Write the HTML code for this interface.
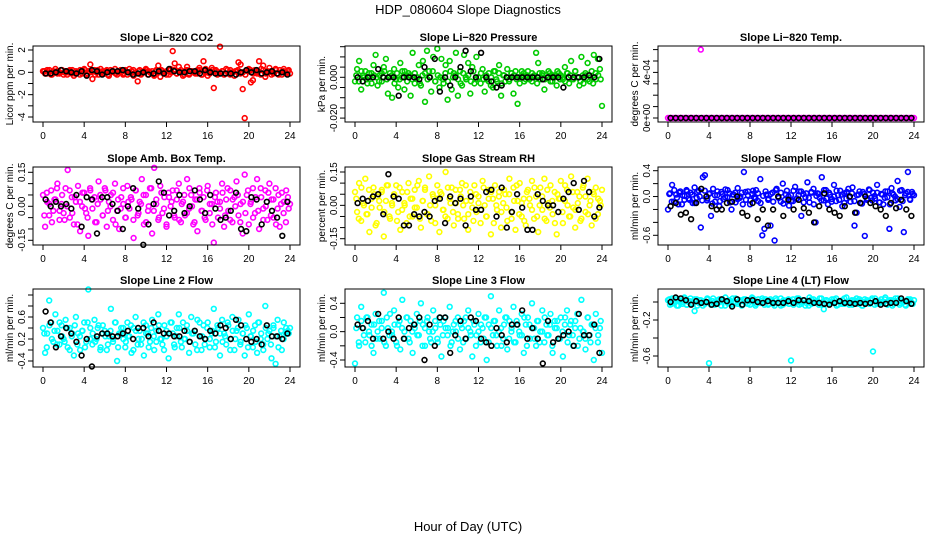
<!DOCTYPE html>
<html><head><meta charset="utf-8"><style>
html,body{margin:0;padding:0;background:#fff}
svg{display:block;font-family:"Liberation Sans",Arial,sans-serif}
</style></head><body>
<svg id="chart" width="936" height="540" viewBox="0 0 936 540" xmlns="http://www.w3.org/2000/svg">
<text x="468" y="14" text-anchor="middle" font-size="13">HDP_080604  Slope Diagnostics</text>
<text x="468" y="531" text-anchor="middle" font-size="13">Hour of Day (UTC)</text>
</svg>
<script>
// ---- data (values in displayed units, scaled per panel by "unit") ----
const xTicks = [0,4,8,12,16,20,24];
const titles = ["Slope Li\u2212820 CO2","Slope Li\u2212820 Pressure","Slope Li\u2212820 Temp.","Slope Amb. Box Temp.","Slope Gas Stream RH","Slope Sample Flow","Slope Line 2 Flow","Slope Line 3 Flow","Slope Line 4 (LT) Flow"];
const yTitles = ["Licor ppm per min.","kPa per min.","degrees C per min.","degrees C per min.","percent per min.","ml/min per min.","ml/min per min.","ml/min per min.","ml/min per min."];

const co2Color = [.1,-.1,.2,0,-.2,.1,.3,-.1,0,.2,-.2,.1,0,.2,-.1,-.3,.1,0,.2,-.1,.3,-.2,.1,.7,-.6,.2,0,-.2,.3,.1,-.1,.2,-.3,0,.1,.3,-.2,.1,0,-.1,.2,-.2,.3,.1,-.3,0,-.8,.2,-.1,.1,.3,-.2,0,.1,-.3,.2,.6,-.4,.1,0,-.2,.2,.3,1.9,.8,-.1,.5,.2,-.3,.1,.5,-.2,.1,0,-.1,.2,.4,-.2,1.0,.3,-.3,.1,.4,-1.4,.2,-.1,2.3,.1,-.2,.3,-.1,.2,0,-.3,.1,.9,.7,-1.5,-4.1,.2,.3,-.9,-.7,.2,-.1,1.0,.3,.6,-.4,.1,.4,-.2,0,.3,-.1,.2,-.2,.3,0,.1,-.1];
const co2Color2 = [.1,-.1,.2,-.2,0,.1,-.1,.2,0,-.2,.1,.2,-.1,0,-.2,.1,.2,-.1,0,.1,-.2,.2,0,-.1,.1,-.2,.2,.1,-.1,0,.2,-.2,.1,0,-.1,.2,-.1,.1,-.2,0,.2,.1,-.1,-.2,.1,0,.2,-.1,.1,-.2,0,.2,-.1,.1,0,-.2,.2,-.1,.1,0,-.1,.2,-.2,.1,0,-.1,.2,.1,-.2,0,.1,-.1,.2,-.2,0,.1,.2,-.1,0,-.2,.1,.2,-.1,0,.1,-.2,.2,-.1,0,.1,-.1,.2,-.2,0,.1,-.1,.2];
const co2Black = [-.1,-.1,0,.2,.1,0,-.1,.1,-.3,.2,.1,-.2,0,.1,.1,.2,0,-.2,-.1,0,-.2,-.1,.1,-.1,.3,.1,0,0,.1,.1,-.1,.2,0,-.1,-.1,-.1,-.1,-.2,0,.2,0,.2,-.1,0,.1,-.1,0,-.2];
const presColor = [-2,4,8,-6,1,3,-3,0,2,6,11,-4,1,-2,5,9,-8,2,-10,4,-1,-5,7,3,-6,1,2,-9,12,-3,0,6,-4,8,-12,13,3,-7,10,-2,14,-5,9,-3,6,-11,8,-6,2,12,-9,3,-4,11,-1,7,-8,5,-3,10,0,-3,4,-7,-1,2,-4,-5,3,-2,6,-9,1,-2,4,-1,2,-8,3,-13,-3,1,2,-1,3,0,-2,1,12,7,-1,2,-6,1,3,-2,1,0,-4,2,1,-1,5,2,-3,8,-1,3,0,-4,10,-3,1,7,-2,3,11,-1,9,4,-14];
const presColor2 = [1,-2,3,0,-1,2,-3,1,0,-2,2,3,-1,0,1,-3,2,-1,0,3,-2,1,-1,2,0,-3,1,2,-1,0,3,-2,1,0,-1,2,-2,3,0,1,-1,-3,2,0,1,-2,3,-1,0,2,-1,1,-2,0,3,-1,2,-3,1,0,-2,2,1,-1,0,3,-2,1,-1,2,0,-3,2,1,-1,0,2,-2,1,3,-1,0,-2,2,1,-1,3,0,-2,1,2,-1,0,-3,2,1,-1];
const presBlack = [0,-2,0,0,4,0,0,0,-9,0,0,0,-1,5,0,9,-7,0,-4,0,5,13,3,0,12,0,-2,-5,-4,0,0,0,0,0,0,0,-1,0,0,0,-5,0,0,0,0,1,0,9];
const tempColor = [0,0,0,0,0,0,0,0,0,0,0,0,0,0,0,0,6,0,0,0,0,0,0,0,0,0,0,0,0,0,0,0,0,0,0,0,0,0,0,0,0,0,0,0,0,0,0,0,0,0,0,0,0,0,0,0,0,0,0,0,0,0,0,0,0,0,0,0,0,0,0,0,0,0,0,0,0,0,0,0,0,0,0,0,0,0,0,0,0,0,0,0,0,0,0,0,0,0,0,0,0,0,0,0,0,0,0,0,0,0,0,0,0,0,0,0,0,0,0,0,0];
const tempColor2 = [];
const tempBlack = [0,0,0,0,0,0,0,0,0,0,0,0,0,0,0,0,0,0,0,0,0,0,0,0,0,0,0,0,0,0,0,0,0,0,0,0,0,0,0,0,0,0,0,0,0,0,0,0];
const ambColor = [5,-9,2,-4,7,-2,3,10,-6,1,-3,8,16,-5,4,-8,2,9,-11,0,6,-3,-13,7,-1,4,-7,11,3,-4,8,-9,2,5,-6,10,-2,-10,4,1,-5,9,-1,3,-14,7,-4,2,12,-8,5,-2,8,-12,17,1,-6,9,-3,4,-9,6,0,7,-5,3,10,-7,2,-4,12,-1,5,-8,3,-11,8,-2,4,-6,9,-3,1,-16,6,-5,2,10,-9,3,-2,7,-7,4,11,-4,1,-12,14,5,-8,2,8,-3,12,-10,4,-1,7,-6,10,3,-5,8,-1,-9,6,2,-7,4,1];
const ambColor2 = [-4,6,1,-7,3,8,-2,5,-6,0,7,-3,4,-8,2,6,-1,-5,8,3,-7,1,5,-4,7,-2,0,6,-8,3,-1,8,-5,2,4,-6,7,-3,1,5,-7,0,8,-2,3,-5,6,-1,-8,4,2,-4,7,-6,1,5,-3,8,0,-7,3,6,-2,-5,7,1,-8,4,2,-1,6,-4,8,-6,3,0,5,-7,2,-3,7,1,-5,4,-2,8,-6,0,6,-4,3,-8,5,1,-3,7,-1];
const ambBlack = [3,0,2,0,1,-1,5,-9,4,3,-12,4,4,1,-2,-10,0,8,-1,-17,-8,1,11,6,-4,-2,5,-3,0,7,3,-3,5,-1,-6,-5,-2,6,-10,-11,4,3,-8,2,-2,-5,-13,2];
const rhColor = [6,-3,10,-7,1,12,-4,-12,3,8,-9,4,-1,7,-14,2,9,-6,0,5,9,-3,-11,6,1,-8,10,3,-5,7,-1,11,-10,2,8,-4,13,-7,4,0,9,-12,5,-2,15,-6,3,8,-9,1,-4,7,10,-6,2,-11,6,-1,9,-3,4,-8,11,0,-5,7,-13,3,9,-2,6,-10,1,5,-7,12,-3,8,-11,2,10,-5,3,-9,7,0,11,-6,4,-12,8,-2,12,-7,1,9,-4,6,-13,3,11,-8,2,7,-5,13,-1,-10,6,4,-6,9,-3,12,0,-9,5,8,-4,2,7];
const rhColor2 = [3,-6,8,0,-4,7,-1,5,-8,2,6,-3,9,-5,1,4,-7,8,-2,0,6,-5,3,-1,9,-6,2,7,-4,0,5,-8,3,6,-2,-5,8,1,-3,7,-6,4,0,9,-4,2,-7,5,1,-2,8,-5,3,6,-8,0,4,-3,7,-1,5,-6,2,9,-4,1,-7,6,3,-2,8,-5,0,4,-6,7,-1,2,-8,5,3,-3,9,0,-5,6,-2,1,-7,8,4,-4,2,6,-6,3,0];
const rhBlack = [1,3,2,4,5,-4,14,4,3,-9,-9,-4,-5,-3,-5,2,3,-8,4,1,3,-9,4,-2,-2,6,7,-5,8,-10,-3,5,-1,-11,-11,5,2,0,0,-3,3,6,10,-2,11,6,-5,-1];
const flowColor = [-20,5,18,-8,3,-12,8,2,-5,10,-3,6,-10,14,-2,9,-48,30,33,-6,4,-30,12,-8,2,-15,7,-4,11,-1,5,-20,3,-9,13,-2,6,38,-5,8,-12,4,-1,10,-7,27,-60,-50,3,-3,-45,6,-68,12,-2,-8,20,-5,9,-14,2,-7,15,-3,8,-30,4,-1,22,-9,6,12,-40,5,-2,30,-6,10,-12,3,-4,18,-7,2,9,-15,5,-3,12,-8,14,-45,-25,3,-10,7,-61,-5,11,-2,6,-3,18,-9,4,-12,8,-1,-50,13,3,-6,24,-16,10,-55,5,38,-4,7,2];
const flowColor2 = [4,-8,10,-2,6,-12,1,8,-5,3,-10,7,0,-6,9,-3,5,-11,2,8,-7,4,-1,10,-9,3,6,-4,0,-12,7,2,-6,9,-3,5,-10,1,8,-5,4,-8,10,-1,6,-11,3,0,-7,9,-4,2,8,-9,5,-2,7,-12,1,4,-6,10,-3,6,-8,0,9,-5,3,-10,7,-1,5,-7,2,8,-11,4,-3,10,-6,1,6,-9,3,-2,8,-12,5,0,-4,9,-7,2,7,-5,4];
const flowBlack = [-15,-10,-28,-25,-35,-10,12,0,-15,-20,-20,-10,-8,0,-25,-30,-10,-35,-20,-45,-20,0,-30,-5,-20,-5,-18,-25,-40,-15,5,-20,-25,-30,-15,0,-25,-10,0,-10,-15,-20,-30,-10,-18,-5,-20,-30];
const line2Color = [20,-25,10,70,30,-5,45,15,-10,25,0,35,-15,20,5,-30,40,10,-20,15,30,-5,90,20,-10,35,0,25,-15,10,15,-20,5,55,-5,30,-40,10,20,0,-15,30,5,-25,20,40,-10,15,0,-30,25,10,-5,35,-20,15,45,0,-10,25,5,-35,30,10,-15,20,45,-5,30,0,15,-25,40,10,-10,35,5,-20,25,0,30,-15,10,55,-5,20,-30,35,10,-10,25,0,40,-20,15,35,-5,10,-30,20,45,5,-15,25,-25,30,10,-10,60,0,15,-35,20,-45,35,5,-20,30,10,15,20];
const line2Color2 = [10,-15,25,0,15,-10,30,5,-5,20,-20,10,25,-10,5,15,-15,30,0,10,-5,20,-20,25,5,-10,15,0,30,-15,10,20,-5,5,25,-20,15,0,-10,30,10,-15,20,5,-5,25,0,-20,15,10,30,-10,5,20,-15,0,25,-5,10,15,-20,30,5,-10,20,0,15,-15,25,10,-5,5,30,-20,15,0,20,-10,10,25,-15,5,15,-5,30,0,-20,20,10,-10,25,5,-15,15,0,20,10];
const line2Black = [50,30,-15,5,20,10,-5,-30,0,-50,5,10,10,5,5,10,15,0,20,20,5,30,15,10,10,5,5,15,-5,15,5,0,15,10,25,20,0,35,25,0,-5,0,-10,25,5,5,0,10];
const line3Color = [-45,20,-20,35,5,-15,20,-5,10,-30,25,0,-10,15,55,-20,5,25,-5,30,-15,10,-25,45,0,20,-10,15,-30,5,25,-5,40,10,-20,15,0,-15,30,5,-10,20,-35,15,5,-5,35,-15,10,0,20,-25,5,15,-10,30,0,-35,10,-5,25,-15,5,20,-40,10,50,-5,15,-20,30,5,-10,20,-25,15,0,35,-15,10,-5,25,-30,10,20,-10,40,5,-20,15,0,30,-15,10,-5,25,-30,15,5,-10,20,-35,10,30,-5,15,-20,5,25,-10,45,0,-25,20,-5,10,-40,25,-15,5,-30];
const line3Color2 = [5,-15,15,-5,20,0,-20,10,-10,15,5,-15,20,-5,0,10,-20,15,5,-10,20,-15,0,10,-5,15,-20,5,20,-10,0,15,-15,10,-5,20,5,-20,0,15,-10,10,-15,20,5,-5,15,-20,0,10,-10,20,-15,5,15,-5,0,-20,10,20,-10,5,-15,15,0,-5,20,-20,10,5,-10,15,-15,0,20,-5,10,-20,5,15,-10,0,20,-15,10,-5,15,-20,5,0,-10,20,-15,10,5,-5,15];
const line3Black = [10,5,15,-10,25,-10,0,-10,20,-10,5,10,20,-40,10,-20,20,20,-30,-5,15,-10,20,15,-10,-15,-20,5,-5,-15,10,10,30,-10,5,-10,-45,15,-15,-10,-5,0,-20,25,-5,-5,10,-30];
const line4Color = [2,-3,4,-1,3,-4,1,-2,5,-3,0,4,-2,-10,3,-1,2,-4,1,3,-68,-3,4,0,-2,3,-4,1,5,-1,2,-3,0,4,-2,1,-4,3,-1,2,-3,5,0,-2,3,-1,4,-3,1,-2,3,0,-4,2,-1,4,-3,1,2,-2,-65,3,-1,4,-3,0,2,-4,1,5,-2,3,-1,0,4,-3,-8,2,1,-2,3,-1,4,-3,0,2,-2,5,-1,1,-3,2,4,-2,1,-4,3,0,-1,2,-55,4,-2,1,3,-1,5,-3,0,2,-2,4,1,-3,2,0,-4,3,1,-1,2];
const line4Color2 = [3,-2,1,-4,2,0,4,-3,1,-1,3,-4,2,0,-2,4,-1,1,-3,2,0,3,-4,1,-2,4,-1,0,2,-3,3,-2,1,4,-4,0,-1,2,3,-3,1,-2,4,0,-4,2,-1,3,1,-3,0,4,-2,2,-1,-4,3,0,1,-3,4,-2,2,-1,0,3,-4,1,-2,4,0,-3,2,1,-1,3,-4,0,2,-2,4,-3,1,-1,0,3,-2,2,-4,1,4,-1,0,-3,2,3,-2];
const line4Black = [0,5,4,2,-3,1,-1,0,-3,-2,3,1,-5,3,-3,2,2,0,-1,1,-1,-1,-1,1,-1,2,2,1,-1,-1,-2,-3,-1,1,-1,-1,-2,-1,-2,-1,1,-3,-2,-1,-1,4,1,-2];

const colorSeries = [co2Color,presColor,tempColor,ambColor,rhColor,flowColor,line2Color,line3Color,line4Color];
const colorSeries2 = [co2Color2,presColor2,tempColor2,ambColor2,rhColor2,flowColor2,line2Color2,line3Color2,line4Color2];
const blackSeries = [co2Black,presBlack,tempBlack,ambBlack,rhBlack,flowBlack,line2Black,line3Black,line4Black];
const units = [1,0.001,0.0001,0.01,0.01,0.01,0.01,0.01,0.01];
const yTickVals = [[-4,-3,-2,-1,0,1,2],[-0.02,-0.015,-0.01,-0.005,0,0.005,0.01,0.015],[0,1e-4,2e-4,3e-4,4e-4,5e-4,6e-4],[-0.15,-0.1,-0.05,0,0.05,0.1,0.15],[-0.15,-0.1,-0.05,0,0.05,0.1,0.15],[-0.6,-0.4,-0.2,0,0.2,0.4],[-0.4,-0.2,0,0.2,0.4,0.6,0.8],[-0.4,-0.2,0,0.2,0.4],[-0.6,-0.4,-0.2,0]];
const yTickLabels = [["-4","","-2","","0","","2"],["-0.020","","","","0.000","","",""],["0e+00","","","","4e-04","",""],["-0.15","","","0.00","","","0.15"],["-0.15","","","0.00","","","0.15"],["-0.6","","","0.0","","0.4"],["-0.4","","0.2","","0.6","",""],["-0.4","","0.0","","0.4"],["-0.6","","-0.2",""]];

// ---- layout (not data) ----
const colsX = [[43,290],[355,602],[668,914]];
const rowsBox = [[46,122],[167,245],[289,367]];
const yCal = [[2,50,-4,117],[0,77.3,-0.02,118.1],[0,118,4e-4,72.4],[0.15,172.3,-0.15,240.3],[0.15,172,-0.15,238.7],[0.4,170.7,-0.6,235.3],[0.6,306,-0.4,361],[0.4,303.3,-0.4,360],[-0.2,320,-0.6,356]];
const colors = ["#ff0000","#00cc00","#ff00ff","#ff00ff","#ffff00","#0000ff","#00ffff","#00ffff","#00ffff"];

const NS = "http://www.w3.org/2000/svg";
const svg = document.getElementById("chart");
function mk(tag, attrs, parent){const e=document.createElementNS(NS,tag);for(const k in attrs)e.setAttribute(k,attrs[k]);(parent||svg).appendChild(e);return e;}

for(let p=0;p<9;p++){
  const c=p%3, r=Math.floor(p/3);
  const [x0,x24]=colsX[c];
  const [top,bot]=rowsBox[r];
  const left=x0-10, right=x24+10;
  const [v1,p1,v2,p2]=yCal[p];
  const xs=h=>x0+(x24-x0)*h/24;
  const ys=v=>p1+(v-v1)*(p2-p1)/(v2-v1);
  const g=mk("g",{});
  
  
  const t=mk("text",{x:(left+right)/2,y:top-5,"text-anchor":"middle","font-size":"11","font-weight":"bold"},g);
  t.textContent=titles[p];
  
  
  const cs=colorSeries[p], n=cs.length;
  cs.forEach((v,i)=>{
    const cx=xs(24*i/(n-1)), cy=ys(v*units[p]);
    const e=mk("circle",{cx:cx.toFixed(1),cy:cy.toFixed(1),r:"2.4",fill:"none",stroke:colors[p],"stroke-width":"1.6"},g);
    
    
  });
  const cs2=colorSeries2[p], n2=cs2.length;
  cs2.forEach((v,i)=>{
    const cx=xs(24*(i+0.5)/n2), cy=ys(v*units[p]);
    const e=mk("circle",{cx:cx.toFixed(1),cy:cy.toFixed(1),r:"2.4",fill:"none",stroke:colors[p],"stroke-width":"1.6"},g);
    
    
  });
  blackSeries[p].forEach((v,i)=>{
    const cx=xs(0.25+0.5*i), cy=ys(v*units[p]);
    const e=mk("circle",{cx:cx.toFixed(1),cy:cy.toFixed(1),r:"2.4",fill:"none",stroke:"#000","stroke-width":"1.6"},g);
    
    
  });
  const box=mk("rect",{x:left,y:top,width:right-left,height:bot-top,fill:"none",stroke:"#000","stroke-width":"1"},g);
  
  
  mk("line",{x1:xs(0),x2:xs(24),y1:bot,y2:bot,stroke:"#000"},g);
  xTicks.forEach(h=>{
    mk("line",{x1:xs(h),x2:xs(h),y1:bot,y2:bot+5,stroke:"#000"},g);
    const l=mk("text",{x:xs(h),y:bot+17,"text-anchor":"middle","font-size":"10"},g);
    l.textContent=h;
    
    
  });
  const tv=yTickVals[p];
  mk("line",{x1:left,x2:left,y1:ys(tv[0]),y2:ys(tv[tv.length-1]),stroke:"#000"},g);
  tv.forEach((v,i)=>{
    const y=ys(v);
    mk("line",{x1:left-5,x2:left,y1:y,y2:y,stroke:"#000"},g);
    const s=yTickLabels[p][i];
    if(s){
      const l=mk("text",{x:0,y:0,transform:`translate(${left-8},${y}) rotate(-90)`,"text-anchor":"middle","font-size":"10"},g);
      l.textContent=s;
      
      
    }
  });
  const yt=mk("text",{x:0,y:0,transform:`translate(${left-20},${(top+bot)/2}) rotate(-90)`,"text-anchor":"middle","font-size":"10"},g);
  yt.textContent=yTitles[p];
  
  
}
</script>
</body></html>
